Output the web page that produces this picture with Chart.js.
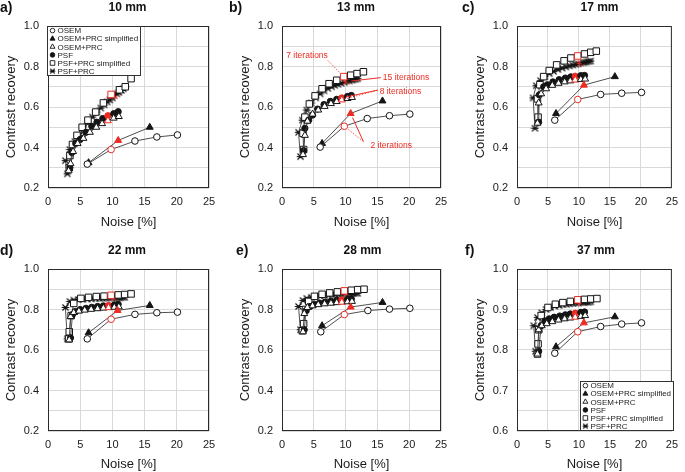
<!DOCTYPE html>
<html>
<head>
<meta charset="utf-8">
<script src="https://cdn.jsdelivr.net/npm/chart.js@4.4.1/dist/chart.umd.min.js"></script>
<style>
html, body { margin: 0; padding: 0; background: #fff; overflow: hidden; }
#fig { position: relative; width: 685px; height: 472px; font-family: "Liberation Sans", Arial, Helvetica, sans-serif; }
#fig canvas { position: absolute; }
.lbl { position: absolute; font-weight: bold; font-size: 14px; line-height: 14px; color: #111; transform: translateY(-50%); }
.ttl { position: absolute; font-weight: bold; font-size: 12px; line-height: 12px; color: #111; transform: translate(-50%, -50%); white-space: nowrap; }
</style>
</head>
<body>
<div id="fig"></div>
<script>
// labels
const PANEL_LETTERS = ['a)', 'b)', 'c)', 'd)', 'e)', 'f)'];
const PANEL_TITLES = ['10 mm', '13 mm', '17 mm', '22 mm', '28 mm', '37 mm'];
const SERIES = ['OSEM', 'OSEM+PRC simplified', 'OSEM+PRC', 'PSF', 'PSF+PRC simplified', 'PSF+PRC'];
const X_LABEL = 'Noise [%]';
const Y_LABEL = 'Contrast recovery';

// highlighted iteration (red marker) per series
const RED_IDX = [1, 1, 8, 8, 8, 14];

// axis ranges
const X_RANGE = [0, 25];
const X_STEP = 5;
const Y_RANGES = [[0.2, 1.0], [0.2, 1.0], [0.2, 1.0], [0.2, 1.0], [0.2, 1.0], [0.6, 1.0]];
const Y_GRID_STEPS = [0.1, 0.1, 0.1, 0.1, 0.1, 0.05];
const Y_LABEL_STEPS = [0.2, 0.2, 0.2, 0.2, 0.2, 0.1];

// ---- 10 mm : [noise %, contrast recovery]
const osem10 = [[6.1, 0.318], [9.8, 0.39], [13.5, 0.432], [16.9, 0.452], [20.1, 0.462]];
const osemPrcS10 = [[6.3, 0.325], [10.9, 0.435], [15.8, 0.5]];
const osemPrc10 = [[3.2, 0.285], [3.5, 0.32], [3.9, 0.38], [4.6, 0.42], [5.5, 0.445], [6.5, 0.475], [7.5, 0.5], [8.4, 0.518], [9.3, 0.532], [10.2, 0.545], [11.0, 0.553]];
const psf10 = [[3.4, 0.3], [3.7, 0.375], [4.3, 0.42], [5.0, 0.44], [5.9, 0.475], [6.8, 0.505], [7.6, 0.525], [8.5, 0.543], [9.3, 0.557], [10.2, 0.567], [10.9, 0.577]];
const psfPrcS10 = [[3.3, 0.3], [3.4, 0.36], [3.8, 0.415], [4.5, 0.46], [5.3, 0.5], [6.2, 0.535], [7.4, 0.575], [8.6, 0.62], [9.8, 0.662], [11.1, 0.685], [12.0, 0.7], [12.9, 0.74]];
const psfPrc10 = [[3.0, 0.27], [2.7, 0.335], [3.4, 0.39], [4.2, 0.43], [4.9, 0.46], [5.5, 0.49], [6.2, 0.52], [6.9, 0.55], [7.6, 0.575], [8.2, 0.595], [8.7, 0.61], [9.2, 0.625], [9.6, 0.635], [10.0, 0.645], [10.3, 0.655], [10.7, 0.665], [11.0, 0.672], [11.4, 0.682], [11.7, 0.69], [12.0, 0.7]];

// ---- 13 mm
const osem13 = [[6.0, 0.402], [9.8, 0.505], [13.4, 0.543], [16.9, 0.557], [20.1, 0.565]];
const osemPrcS13 = [[6.3, 0.42], [10.8, 0.568], [15.8, 0.63]];
const osemPrc13 = [[3.3, 0.365], [3.6, 0.46], [4.0, 0.53], [4.8, 0.565], [5.7, 0.585], [6.7, 0.603], [7.7, 0.617], [8.6, 0.627], [9.4, 0.635], [10.3, 0.642], [11.0, 0.647]];
const psf13 = [[3.4, 0.385], [3.6, 0.495], [4.2, 0.535], [4.8, 0.56], [5.6, 0.59], [6.6, 0.612], [7.6, 0.628], [8.6, 0.638], [9.4, 0.645], [10.3, 0.652], [10.9, 0.657]];
const psfPrcS13 = [[3.4, 0.39], [3.3, 0.47], [3.6, 0.55], [4.3, 0.615], [5.2, 0.655], [6.3, 0.69], [7.4, 0.715], [8.6, 0.732], [9.7, 0.75], [10.8, 0.757], [11.8, 0.765], [12.8, 0.774]];
const psfPrc13 = [[2.9, 0.355], [2.6, 0.475], [3.2, 0.535], [3.9, 0.585], [4.6, 0.62], [5.3, 0.645], [6.0, 0.665], [6.6, 0.68], [7.2, 0.692], [7.8, 0.7], [8.3, 0.707], [8.8, 0.712], [9.3, 0.717], [9.8, 0.722], [10.2, 0.726], [10.6, 0.729], [11.0, 0.732], [11.3, 0.735], [11.6, 0.737], [11.9, 0.74]];

// ---- 17 mm
const osem17 = [[6.1, 0.535], [9.8, 0.637], [13.5, 0.662], [16.9, 0.668], [20.1, 0.672]];
const osemPrcS17 = [[6.3, 0.568], [10.8, 0.708], [15.8, 0.75]];
const osemPrc17 = [[3.3, 0.52], [3.5, 0.62], [3.9, 0.665], [4.7, 0.69], [5.7, 0.707], [6.7, 0.717], [7.7, 0.724], [8.6, 0.729], [9.4, 0.733], [10.3, 0.736], [11.0, 0.738]];
const psf17 = [[3.5, 0.525], [3.6, 0.66], [4.3, 0.7], [4.9, 0.71], [5.8, 0.724], [6.8, 0.735], [7.8, 0.743], [8.7, 0.749], [9.4, 0.752], [10.3, 0.755], [10.9, 0.756]];
const psfPrcS17 = [[3.4, 0.55], [3.3, 0.64], [3.7, 0.71], [4.3, 0.75], [5.2, 0.78], [6.4, 0.808], [7.6, 0.828], [8.7, 0.842], [9.8, 0.852], [10.9, 0.862], [11.9, 0.87], [12.8, 0.876]];
const psfPrc17 = [[2.9, 0.495], [2.6, 0.645], [3.1, 0.705], [3.8, 0.73], [4.5, 0.75], [5.2, 0.765], [5.9, 0.776], [6.6, 0.785], [7.3, 0.792], [7.9, 0.798], [8.5, 0.803], [9.0, 0.807], [9.5, 0.81], [9.9, 0.813], [10.3, 0.816], [10.7, 0.819], [11.0, 0.821], [11.3, 0.823], [11.6, 0.825], [11.9, 0.827]];

// ---- 22 mm
const osem22 = [[6.1, 0.655], [9.8, 0.752], [13.5, 0.776], [16.9, 0.784], [20.1, 0.787]];
const osemPrcS22 = [[6.3, 0.685], [10.8, 0.795], [15.8, 0.82]];
const osemPrc22 = [[3.3, 0.65], [3.5, 0.765], [4.0, 0.785], [4.8, 0.792], [5.7, 0.797], [6.7, 0.801], [7.7, 0.804], [8.6, 0.807], [9.4, 0.809], [10.3, 0.811], [11.0, 0.813]];
const psf22 = [[3.5, 0.66], [3.8, 0.775], [4.3, 0.79], [5.0, 0.8], [5.9, 0.806], [6.8, 0.811], [7.7, 0.815], [8.6, 0.818], [9.4, 0.82], [10.3, 0.823], [10.9, 0.826]];
const psfPrcS22 = [[3.2, 0.655], [3.3, 0.69], [3.6, 0.77], [4.0, 0.83], [5.1, 0.855], [6.3, 0.86], [7.5, 0.864], [8.7, 0.866], [9.8, 0.87], [10.9, 0.872], [11.9, 0.874], [12.9, 0.877]];
const psfPrc22 = [[3.0, 0.655], [2.7, 0.81], [3.4, 0.84], [4.0, 0.846], [4.7, 0.849], [5.4, 0.851], [6.1, 0.852], [6.8, 0.853], [7.4, 0.854], [8.0, 0.855], [8.5, 0.855], [9.0, 0.856], [9.5, 0.856], [9.9, 0.857], [10.3, 0.857], [10.7, 0.858], [11.0, 0.858], [11.3, 0.858], [11.6, 0.859], [11.9, 0.86]];

// ---- 28 mm
const osem28 = [[6.1, 0.69], [9.8, 0.775], [13.5, 0.795], [16.9, 0.802], [20.1, 0.806]];
const osemPrcS28 = [[6.3, 0.72], [10.8, 0.812], [15.8, 0.835]];
const osemPrc28 = [[3.3, 0.69], [3.5, 0.78], [4.0, 0.81], [4.8, 0.818], [5.7, 0.824], [6.7, 0.828], [7.7, 0.831], [8.6, 0.834], [9.4, 0.836], [10.3, 0.838], [11.0, 0.84]];
const psf28 = [[3.5, 0.7], [3.8, 0.795], [4.4, 0.815], [5.1, 0.825], [5.9, 0.832], [6.8, 0.837], [7.7, 0.841], [8.6, 0.845], [9.4, 0.847], [10.3, 0.85], [10.9, 0.852]];
const psfPrcS28 = [[3.2, 0.695], [3.4, 0.73], [3.7, 0.8], [4.2, 0.84], [5.1, 0.865], [6.3, 0.875], [7.5, 0.882], [8.7, 0.887], [9.8, 0.892], [10.9, 0.895], [11.9, 0.898], [12.9, 0.9]];
const psfPrc28 = [[2.9, 0.7], [2.6, 0.815], [3.3, 0.845], [3.9, 0.855], [4.6, 0.86], [5.3, 0.864], [6.0, 0.867], [6.7, 0.869], [7.3, 0.871], [7.9, 0.873], [8.4, 0.874], [8.9, 0.875], [9.4, 0.876], [9.8, 0.877], [10.2, 0.878], [10.6, 0.878], [11.0, 0.879], [11.3, 0.879], [11.6, 0.88], [11.9, 0.88]];

// ---- 37 mm
const osem37 = [[6.1, 0.792], [9.8, 0.845], [13.5, 0.858], [16.9, 0.864], [20.1, 0.867]];
const osemPrcS37 = [[6.3, 0.808], [10.8, 0.867], [15.8, 0.882]];
const osemPrc37 = [[3.3, 0.79], [3.5, 0.85], [4.0, 0.86], [4.8, 0.865], [5.7, 0.87], [6.7, 0.874], [7.7, 0.877], [8.6, 0.879], [9.4, 0.881], [10.3, 0.883], [11.0, 0.885]];
const psf37 = [[3.5, 0.797], [3.9, 0.86], [4.5, 0.872], [5.2, 0.877], [6.0, 0.881], [6.9, 0.884], [7.8, 0.887], [8.6, 0.889], [9.4, 0.891], [10.3, 0.893], [10.9, 0.894]];
const psfPrcS37 = [[3.3, 0.79], [3.4, 0.815], [3.5, 0.85], [3.9, 0.885], [5.0, 0.905], [6.2, 0.913], [7.4, 0.917], [8.6, 0.92], [9.8, 0.924], [10.9, 0.925], [11.9, 0.926], [12.9, 0.927]];
const psfPrc37 = [[3.0, 0.797], [2.7, 0.86], [3.3, 0.88], [4.0, 0.892], [4.7, 0.9], [5.4, 0.905], [6.1, 0.908], [6.8, 0.91], [7.4, 0.912], [8.0, 0.913], [8.5, 0.914], [9.0, 0.915], [9.5, 0.916], [9.9, 0.916], [10.3, 0.917], [10.7, 0.917], [11.0, 0.918], [11.3, 0.918], [11.6, 0.918], [11.9, 0.919]];

const DATA = [
    [osem10, osemPrcS10, osemPrc10, psf10, psfPrcS10, psfPrc10],
    [osem13, osemPrcS13, osemPrc13, psf13, psfPrcS13, psfPrc13],
    [osem17, osemPrcS17, osemPrc17, psf17, psfPrcS17, psfPrc17],
    [osem22, osemPrcS22, osemPrc22, psf22, psfPrcS22, psfPrc22],
    [osem28, osemPrcS28, osemPrc28, psf28, psfPrcS28, psfPrc28],
    [osem37, osemPrcS37, osemPrc37, psf37, psfPrcS37, psfPrc37],
];

// red notes in panel b (text anchor in data units, linked series)
const NOTES_13 = [
    { text: '7 iterations', x: 0.67, y: 0.852, from: 'right', dy: 4.5, links: [{ series: 4, dash: true }] },
    { text: '15 iterations', x: 15.86, y: 0.745, from: 'left', dy: 0, links: [{ series: 5, dash: false }] },
    { text: '8 iterations', x: 15.35, y: 0.676, from: 'left', dy: -1.5, links: [{ series: 3, dash: false }, { series: 2, dash: true }] },
    { text: '2 iterations', x: 13.9, y: 0.407, from: 'top', dy: -4.5, links: [{ series: 1, dash: false }, { series: 0, dash: true }] },
];

// page layout
const BOXES = [
    { left: 0, top: 0, w: 228, h: 230, padTop: 26, padRight: 19, xH: 42 },
    { left: 234, top: 0, w: 228, h: 230, padTop: 26, padRight: 21, xH: 42 },
    { left: 469, top: 0, w: 216, h: 230, padTop: 26, padRight: 9, xH: 42 },
    { left: 0, top: 230, w: 228, h: 242, padTop: 39, padRight: 19, xH: 41 },
    { left: 234, top: 230, w: 228, h: 242, padTop: 39, padRight: 21, xH: 41 },
    { left: 469, top: 230, w: 216, h: 242, padTop: 39, padRight: 9, xH: 41 },
];
const LETTER_X = [0, 229, 462, 0, 236, 465];
const TITLE_X = [127.5, 356, 599.5, 127, 362.5, 596];
const ROW_Y = [7, 249.5];
const LEGEND_AT = { 0: 'tl', 5: 'br' };

const FONT = '"Liberation Sans", Arial, Helvetica, sans-serif';
const RED = '#ee2b22';
const INK = '#141414';
const LINE = '#3c3c3c';

Chart.defaults.font.family = FONT;
Chart.defaults.color = '#1a1a1a';

function makeStar(color, size) {
    const c = document.createElement('canvas');
    c.width = c.height = size;
    const g = c.getContext('2d');
    const m = size / 2, r = size / 2 - 0.7;
    g.strokeStyle = color;
    g.lineWidth = 1.2;
    g.beginPath();
    g.moveTo(m - r * 0.8, m - r * 0.8); g.lineTo(m + r * 0.8, m + r * 0.8);
    g.moveTo(m - r * 0.8, m + r * 0.8); g.lineTo(m + r * 0.8, m - r * 0.8);
    g.moveTo(m - r, m); g.lineTo(m + r, m);
    g.stroke();
    return c;
}
const STAR_BLACK = makeStar(INK, 9);
const STAR_RED = makeStar(RED, 9);
const STAR_LEGEND = makeStar(INK, 7);

const MARKERS = [
    { shape: 'circle', filled: false, r: 3.3 },
    { shape: 'triangle', filled: true, r: 4 },
    { shape: 'triangle', filled: false, r: 4 },
    { shape: 'circle', filled: true, r: 3.1 },
    { shape: 'rect', filled: false, r: 4.6 },
    { shape: 'star', filled: false, r: 4 },
];

function buildDatasets(p) {
    return DATA[p].map((pts, s) => {
        const m = MARKERS[s];
        const isRed = c => c.dataIndex === RED_IDX[s];
        return {
            label: SERIES[s],
            data: pts.map(([x, y]) => ({ x, y })),
            showLine: true,
            borderColor: LINE,
            borderWidth: 0.9,
            pointStyle: m.shape === 'star' ? (c => isRed(c) ? STAR_RED : STAR_BLACK) : m.shape,
            pointRadius: m.r,
            pointHoverRadius: m.r,
            pointBorderWidth: 1,
            pointBorderColor: c => isRed(c) ? RED : INK,
            pointBackgroundColor: c => m.filled ? (isRed(c) ? RED : INK) : '#fff',
        };
    });
}

// small marker for the legend box
function legendMarker(g, s, x, y) {
    const m = MARKERS[s];
    g.save();
    g.lineWidth = 0.9;
    g.strokeStyle = INK;
    g.fillStyle = m.filled ? INK : '#fff';
    g.beginPath();
    if (m.shape === 'circle') {
        g.arc(x, y, 2.3, 0, Math.PI * 2);
    } else if (m.shape === 'triangle') {
        const r = 2.9;
        g.moveTo(x, y - r);
        g.lineTo(x + r * 0.866, y + r * 0.5);
        g.lineTo(x - r * 0.866, y + r * 0.5);
        g.closePath();
    } else if (m.shape === 'rect') {
        g.rect(x - 2.3, y - 2.3, 4.6, 4.6);
    } else {
        g.drawImage(STAR_LEGEND, x - 3.5, y - 3.5);
        g.restore();
        return;
    }
    g.fill();
    g.stroke();
    g.restore();
}

function drawLegend(chart, where) {
    const g = chart.ctx, a = chart.chartArea;
    const w = 94, h = 50;
    const left = where === 'tl' ? a.left - 1 : a.right + 2 - w;
    const top = where === 'tl' ? a.top : a.bottom - h;
    g.save();
    g.fillStyle = '#fff';
    g.fillRect(left, top, w, h);
    g.strokeStyle = '#333';
    g.lineWidth = 1;
    g.strokeRect(Math.round(left) + 0.5, Math.round(top) + 0.5, w - 1, h - 1);
    g.font = '8px ' + FONT;
    g.fillStyle = '#1a1a1a';
    g.textBaseline = 'middle';
    SERIES.forEach((name, s) => {
        const y = top + 4.6 + s * 8.1;
        legendMarker(g, s, left + 5.5, y);
        g.fillText(name, left + 10.5, y + 0.5);
    });
    g.restore();
}

function drawNotes(chart) {
    const g = chart.ctx;
    g.save();
    g.font = '8.5px ' + FONT;
    g.textBaseline = 'middle';
    NOTES_13.forEach(n => {
        const tx = chart.scales.x.getPixelForValue(n.x);
        const ty = chart.scales.y.getPixelForValue(n.y);
        const tw = g.measureText(n.text).width;
        g.fillStyle = RED;
        g.fillText(n.text, tx, ty);
        let sx = tx - 2, sy = ty + n.dy;
        if (n.from === 'right') sx = tx + tw;
        if (n.from === 'top') sx = tx - 7;
        n.links.forEach(l => {
            const pt = chart.getDatasetMeta(l.series).data[RED_IDX[l.series]];
            const dx = pt.x - sx, dyy = pt.y - sy;
            const len = Math.hypot(dx, dyy);
            const ex = pt.x - dx / len * 4.5, ey = pt.y - dyy / len * 4.5;
            g.strokeStyle = RED;
            g.lineWidth = l.dash ? 0.8 : 1;
            g.setLineDash(l.dash ? [1.5, 1.5] : []);
            g.beginPath();
            g.moveTo(sx, sy);
            g.lineTo(ex, ey);
            g.stroke();
        });
    });
    g.restore();
}

function panelPlugin(p) {
    return {
        id: 'panelExtras' + p,
        afterDatasetsDraw(chart) {
            const g = chart.ctx, a = chart.chartArea;
            g.save();
            g.strokeStyle = '#2a2a2a';
            g.lineWidth = 1;
            g.strokeRect(a.left + 0.5, a.top + 0.5, a.right - a.left - 1, a.bottom - a.top - 1);
            g.restore();
            if (LEGEND_AT[p]) drawLegend(chart, LEGEND_AT[p]);
            if (p === 1) drawNotes(chart);
        }
    };
}

const fig = document.getElementById('fig');

BOXES.forEach((b, p) => {
    const canvas = document.createElement('canvas');
    canvas.width = b.w;
    canvas.height = b.h;
    canvas.style.left = b.left + 'px';
    canvas.style.top = b.top + 'px';
    fig.appendChild(canvas);

    const row = p < 3 ? 0 : 1;
    const letter = document.createElement('div');
    letter.className = 'lbl';
    letter.textContent = PANEL_LETTERS[p];
    letter.style.left = LETTER_X[p] + 'px';
    letter.style.top = ROW_Y[row] + 'px';
    fig.appendChild(letter);

    const title = document.createElement('div');
    title.className = 'ttl';
    title.textContent = PANEL_TITLES[p];
    title.style.left = TITLE_X[p] + 'px';
    title.style.top = ROW_Y[row] + 'px';
    fig.appendChild(title);

    const lblStep = Y_LABEL_STEPS[p];

    new Chart(canvas, {
        type: 'scatter',
        data: { datasets: buildDatasets(p) },
        options: {
            responsive: false,
            animation: false,
            devicePixelRatio: 1,
            events: [],
            layout: { padding: { top: b.padTop, right: b.padRight, left: 0, bottom: 0 } },
            plugins: { legend: { display: false }, tooltip: { enabled: false } },
            scales: {
                x: {
                    type: 'linear',
                    min: X_RANGE[0],
                    max: X_RANGE[1],
                    ticks: { stepSize: X_STEP, padding: 7, color: '#1a1a1a', font: { size: 11 } },
                    grid: { color: '#d9d9d9', drawTicks: false },
                    border: { display: false },
                    title: { display: true, text: X_LABEL, color: '#1a1a1a', font: { size: 13 }, padding: { top: 0, bottom: 0 } },
                    afterFit: s => { s.height = b.xH; }
                },
                y: {
                    type: 'linear',
                    min: Y_RANGES[p][0],
                    max: Y_RANGES[p][1],
                    ticks: {
                        stepSize: Y_GRID_STEPS[p],
                        padding: 9,
                        color: '#1a1a1a',
                        font: { size: 11 },
                        autoSkip: false,
                        callback: v => {
                            const k = v / lblStep;
                            return Math.abs(k - Math.round(k)) < 1e-6 ? v.toFixed(1) : '';
                        }
                    },
                    grid: { color: '#d9d9d9', drawTicks: false },
                    border: { display: false },
                    title: { display: true, text: Y_LABEL, color: '#1a1a1a', font: { size: 13 }, padding: { top: 4, bottom: 0 } },
                    afterFit: s => { s.width = 48; }
                }
            }
        },
        plugins: [panelPlugin(p)]
    });
});
</script>
</body>
</html>
